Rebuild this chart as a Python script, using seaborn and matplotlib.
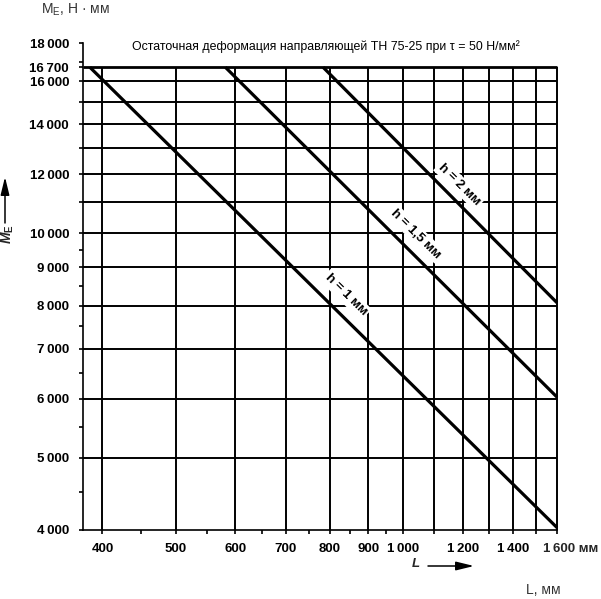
import numpy as np
import pandas as pd
import matplotlib
matplotlib.use("Agg")
import matplotlib.pyplot as plt
import seaborn as sns
from matplotlib.ticker import FixedLocator, FixedFormatter, NullFormatter

# ---- data ----
h_labels = ["h = 1 мм", "h = 1,5 мм", "h = 2 мм"]
L_h1 = [385, 1600]
M_h1 = [16700, 4030]
L_h15 = [582, 1600]
M_h15 = [16700, 6030]
L_h2 = [784, 1600]
M_h2 = [16700, 8070]

x_grid = [400, 500, 600, 700, 800, 900, 1000, 1100, 1200, 1300, 1400, 1500, 1600]
x_ticklabels = ["400", "500", "600", "700", "800", "900", "1\u2009000", "", "1\u2009200", "", "1\u2009400", "", ""]
x_minor = [450, 550, 650, 750, 850, 950]
y_grid = [5000, 6000, 7000, 8000, 9000, 10000, 11000, 12000, 13000, 14000, 15000, 16000]
y_major = [4000] + y_grid + [16700, 18000]
y_ticklabels = ["4\u2009000", "5\u2009000", "6\u2009000", "7\u2009000", "8\u2009000", "9\u2009000", "10\u2009000", "",
                "12\u2009000", "", "14\u2009000", "", "16\u2009000", "16\u2009700", "18\u2009000"]
y_minor = [4500, 5500, 6500, 7500, 8500, 9500, 17000]
top_line = 16700

# label positions (L, M) along lines
lab_L = [840, 1040, 1188]
lab_M = [8270, 9990, 11620]

df = pd.concat([
    pd.DataFrame({"L": L_h1, "M": M_h1, "h": h_labels[0]}),
    pd.DataFrame({"L": L_h15, "M": M_h15, "h": h_labels[1]}),
    pd.DataFrame({"L": L_h2, "M": M_h2, "h": h_labels[2]}),
])

sns.set_theme(style="white")
plt.rcParams["font.family"] = ["Liberation Sans", "DejaVu Sans"]
plt.rcParams["mathtext.fontset"] = "custom"
plt.rcParams["mathtext.rm"] = "Liberation Sans"
plt.rcParams["mathtext.it"] = "Liberation Sans:italic"
plt.rcParams["mathtext.bf"] = "Liberation Sans:bold"
plt.rcParams["mathtext.bfit"] = "Liberation Sans:italic:bold"

W, H = 601, 599
fig = plt.figure(figsize=(W / 100, H / 100), dpi=100)
ax = fig.add_axes([83 / W, 1 - 530 / H, (557 - 83) / W, (530 - 43) / H])
ax.set_xscale("log")
ax.set_yscale("log")
ax.set_xlim(377, 1600)
ax.set_ylim(4000, 18000)

# grid
ax.vlines(x_grid, 4000, top_line, colors="black", lw=1.4, clip_on=False, zorder=1)
ax.hlines(y_grid, 377, 1600, colors="black", lw=1.4, clip_on=False, zorder=1)
ax.hlines([top_line], 377, 1600, colors="black", lw=2.0, clip_on=False, zorder=1)

sns.lineplot(data=df, x="L", y="M", hue="h", palette=["black"] * 3, lw=2.3,
             legend=False, sort=False, ax=ax, zorder=3)
for ln in ax.get_lines():
    ln.set_clip_on(False)
    ln.set_solid_capstyle("butt")

for t, Lx, My in zip(h_labels, lab_L, lab_M):
    ax.text(Lx, My, t, rotation=-44.6, rotation_mode="anchor", ha="center", va="center",
            fontsize=9.5, fontweight="bold", color="black", zorder=2,
            bbox=dict(facecolor="white", edgecolor="none", pad=1.5))

ax.set_xlabel("")
ax.set_ylabel("")
for s in ["top", "right"]:
    ax.spines[s].set_visible(False)
for s in ["left", "bottom"]:
    ax.spines[s].set_color("black")
    ax.spines[s].set_linewidth(1.2)

ax.xaxis.set_major_locator(FixedLocator(x_grid))
ax.xaxis.set_major_formatter(FixedFormatter(x_ticklabels))
ax.xaxis.set_minor_locator(FixedLocator(x_minor))
ax.xaxis.set_minor_formatter(NullFormatter())
ax.yaxis.set_major_locator(FixedLocator(y_major))
ax.yaxis.set_major_formatter(FixedFormatter(y_ticklabels))
ax.yaxis.set_minor_locator(FixedLocator(y_minor))
ax.yaxis.set_minor_formatter(NullFormatter())

ax.tick_params(axis="x", which="both", direction="out", bottom=True, length=3, width=1.2,
               pad=6.0, labelsize=9.5, colors="black")
ax.tick_params(axis="y", which="both", direction="out", left=True, length=3, width=1.2,
               pad=7, labelsize=9.5, colors="black")
for lab in ax.get_xticklabels() + ax.get_yticklabels():
    lab.set_fontweight("bold")

ax.annotate("1\u2009600 мм", xy=(1600, 4000), xytext=(-10, -9.0), textcoords="offset points",
            ha="left", va="top", fontsize=9.5, fontweight="bold", annotation_clip=False)

# title
fig.text(326 / W, 1 - 47 / H, "Остаточная деформация направляющей ТН 75-25 при τ = 50 Н/мм²",
         ha="center", va="center", fontsize=8.9, color="black")

# axis names
fig.text(75 / W, 1 - 10 / H, r"M$_{\mathrm{E}}$, Н · мм", ha="center", va="center",
         fontsize=10, color="#333333")
fig.text(543 / W, 1 - 590 / H, "L, мм", ha="center", va="center", fontsize=10, color="#333333")

fig.text(8 / W, 1 - 234 / H, r"$\mathbfit{M}_{\mathbf{E}}$", rotation=90, ha="center", va="center",
         fontsize=10)
fig.text(416 / W, 1 - 564 / H, "L", ha="center", va="center", fontsize=9.5, fontweight="bold", style="italic")

ap = dict(arrowstyle="-|>,head_length=0.9,head_width=0.22", color="black", lw=1.1, shrinkA=0, shrinkB=0)
ax.annotate("", xy=(5, H - 177), xytext=(5, H - 223), xycoords="figure pixels",
            textcoords="figure pixels", arrowprops=ap, annotation_clip=False)
ax.annotate("", xy=(474, H - 566), xytext=(428, H - 566), xycoords="figure pixels",
            textcoords="figure pixels", arrowprops=ap, annotation_clip=False)

fig.savefig("out.png", dpi=100)
